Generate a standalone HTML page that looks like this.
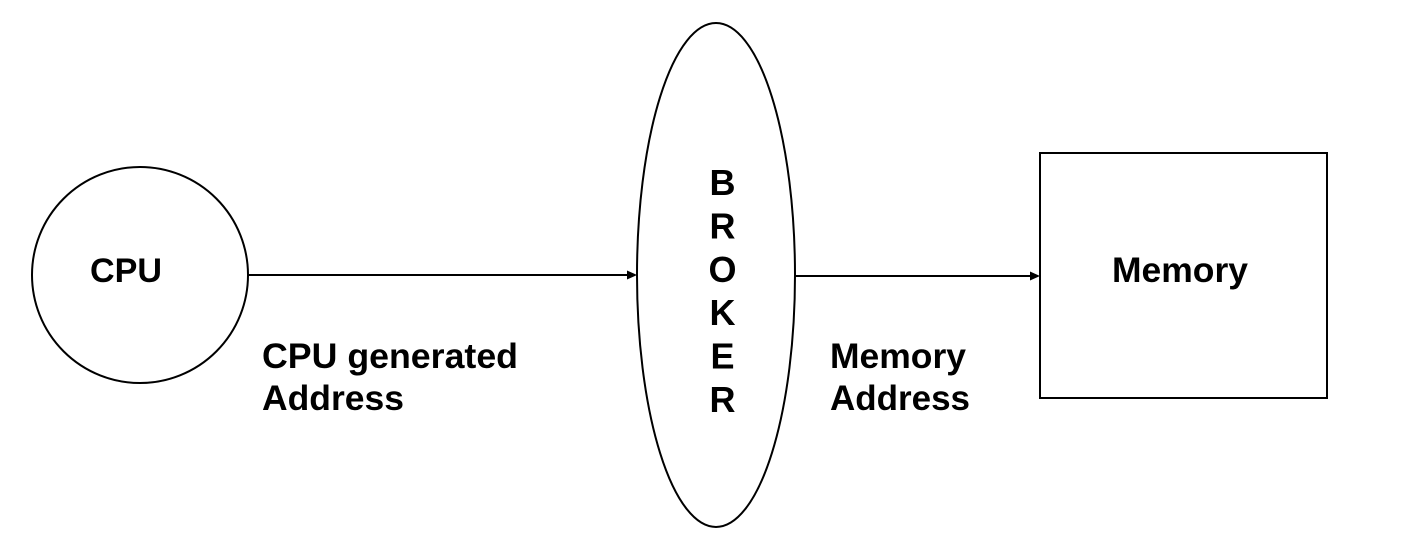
<!DOCTYPE html>
<html>
<head>
<meta charset="utf-8">
<style>
  html, body { margin: 0; padding: 0; background: #ffffff; }
  body { width: 1417px; height: 558px; overflow: hidden; }
  svg { display: block; }
  text { font-family: "Liberation Sans", Arial, sans-serif; font-weight: bold; fill: #000; }
</style>
</head>
<body>
<svg width="1417" height="558" viewBox="0 0 1417 558" xmlns="http://www.w3.org/2000/svg">
  <rect x="0" y="0" width="1417" height="558" fill="#ffffff"/>

  <!-- CPU circle -->
  <circle cx="140" cy="275" r="108" fill="none" stroke="#000" stroke-width="2"/>
  <text x="90" y="282" font-size="34" textLength="72" lengthAdjust="spacingAndGlyphs">CPU</text>

  <!-- Arrow CPU -> Broker -->
  <line x1="248" y1="275" x2="629" y2="275" stroke="#000" stroke-width="2"/>
  <polygon points="637,275 627,270.5 627,279.5" fill="#000"/>

  <!-- Broker ellipse -->
  <ellipse cx="716" cy="275" rx="79" ry="252" fill="none" stroke="#000" stroke-width="2"/>
  <g font-size="36" text-anchor="middle">
    <text x="722.5" y="195">B</text>
    <text x="722.5" y="238.4">R</text>
    <text x="722.5" y="281.8">O</text>
    <text x="722.5" y="325.2">K</text>
    <text x="722.5" y="368.6">E</text>
    <text x="722.5" y="412">R</text>
  </g>

  <!-- Arrow Broker -> Memory -->
  <line x1="795" y1="276" x2="1032" y2="276" stroke="#000" stroke-width="2"/>
  <polygon points="1040,276 1030,271.5 1030,280.5" fill="#000"/>

  <!-- Memory box -->
  <rect x="1040" y="153" width="287" height="245" fill="none" stroke="#000" stroke-width="2"/>
  <text x="1112" y="282" font-size="35" textLength="136" lengthAdjust="spacingAndGlyphs">Memory</text>

  <!-- Labels -->
  <text x="262" y="368" font-size="35" textLength="256" lengthAdjust="spacingAndGlyphs">CPU generated</text>
  <text x="262" y="410" font-size="35" textLength="142" lengthAdjust="spacingAndGlyphs">Address</text>

  <text x="830" y="368" font-size="35" textLength="136" lengthAdjust="spacingAndGlyphs">Memory</text>
  <text x="830" y="410" font-size="35" textLength="140" lengthAdjust="spacingAndGlyphs">Address</text>
</svg>
</body>
</html>
